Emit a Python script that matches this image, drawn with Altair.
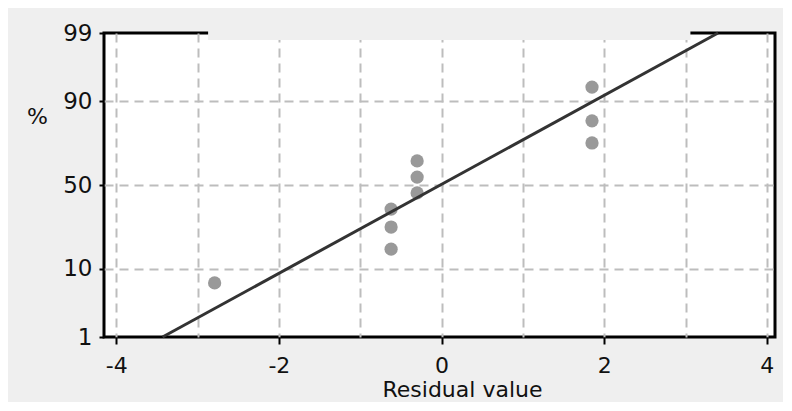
import altair as alt
import pandas as pd
from statistics import NormalDist

# ---- data ----
resid = [-2.79, -0.62, -0.62, -0.62, -0.30, -0.30, -0.30, 1.85, 1.85, 1.85]
pct = [6.7, 16.3, 26.0, 35.6, 45.2, 54.8, 64.4, 74.0, 83.7, 93.3]
line_resid = [-3.43, 3.40]
line_pct = [1, 99]
y_tick_pct = [1, 10, 50, 90, 99]
x_ticks = [-4, -3, -2, -1, 0, 1, 2, 3, 4]
x_domain = [-4.15, 4.10]
band_resid = [-2.87, 3.06]
band_pct = [98.68, 99.1]

nd = NormalDist()
def z(p):
    return nd.inv_cdf(p / 100.0)

y_domain = [z(y_tick_pct[0]), z(y_tick_pct[-1])]
y_tick_z = [z(p) for p in y_tick_pct]

pts = pd.DataFrame({"r": resid, "z": [z(p) for p in pct]})
ln = pd.DataFrame({"r": line_resid, "z": [z(p) for p in line_pct]})
band = pd.DataFrame({"r": [band_resid[0]], "r2": [band_resid[1]],
                     "z": [z(band_pct[0])], "z2": [z(band_pct[1])]})

# label expression for probability axis
expr = "'" + str(y_tick_pct[-1]) + "'"
for i in range(len(y_tick_pct) - 2, -1, -1):
    mid = (y_tick_z[i] + y_tick_z[i + 1]) / 2
    expr = f"datum.value < {mid:.4f} ? '{y_tick_pct[i]}' : ({expr})"

FONT = "DejaVu Sans"
xs = alt.Scale(domain=x_domain, nice=False, zero=False)
ys = alt.Scale(domain=y_domain, nice=False, zero=False)

x_axis = alt.Axis(
    values=x_ticks, domain=False, grid=True,
    gridColor="#bdbdbd", gridDash=[9, 6], gridWidth=2,
    ticks=True, tickColor="black", tickSize=7, tickWidth=2,
    tickOpacity={"condition": {"test": "datum.value % 2 !== 0", "value": 0}, "value": 1},
    labelExpr="datum.value % 2 !== 0 ? '' : '' + datum.value",
    labelFont=FONT, labelFontSize=22, labelColor="#111111", labelPadding=11,
    labelFlush=False, labelOverlap=False,
    title="Residual value", titleFont=FONT, titleFontSize=22, titleFontWeight="normal",
    titleColor="#111111", titleX=358, titleY=59, titleAlign="center",
    titleBaseline="alphabetic",
)
y_axis = alt.Axis(
    values=y_tick_z, domain=False, grid=True,
    gridColor="#bdbdbd", gridDash=[9, 6], gridWidth=2,
    gridOpacity={"condition": {"test": "datum.value < -2 || datum.value > 2", "value": 0}, "value": 1},
    ticks=True, tickColor="black", tickSize=5, tickWidth=2,
    labelExpr=expr, labelFont=FONT, labelFontSize=23, labelColor="#111111",
    labelPadding=7, labelFlush=False, labelOverlap=False, labelBaseline="middle",
    title="%", titleFont=FONT, titleFontSize=22, titleFontWeight="normal",
    titleColor="#111111", titleAngle=0, titleX=-67, titleY=83,
    titleAlign="center", titleBaseline="middle",
)

points = alt.Chart(pts).mark_circle(size=175, color="#999999", opacity=1).encode(
    x=alt.X("r:Q", scale=xs, axis=x_axis),
    y=alt.Y("z:Q", scale=ys, axis=y_axis),
)
line = alt.Chart(ln).mark_line(color="#333333", strokeWidth=3).encode(
    x=alt.X("r:Q", scale=xs),
    y=alt.Y("z:Q", scale=ys),
)
cover = alt.Chart(band).mark_rect(color="#efefef", opacity=1).encode(
    x=alt.X("r:Q", scale=xs), x2="r2:Q",
    y=alt.Y("z:Q", scale=ys), y2="z2:Q",
)

chart = alt.layer(points, line, cover).properties(
    width=671, height=304,
    background="#efefef",
    padding={"left": 96, "top": 25, "right": 8, "bottom": 65},
    autosize=alt.AutoSizeParams(type="none"),
).configure_view(stroke="black", strokeWidth=3, fill="white")

chart.save("out.html", embed_options={"renderer": "svg", "actions": False})
